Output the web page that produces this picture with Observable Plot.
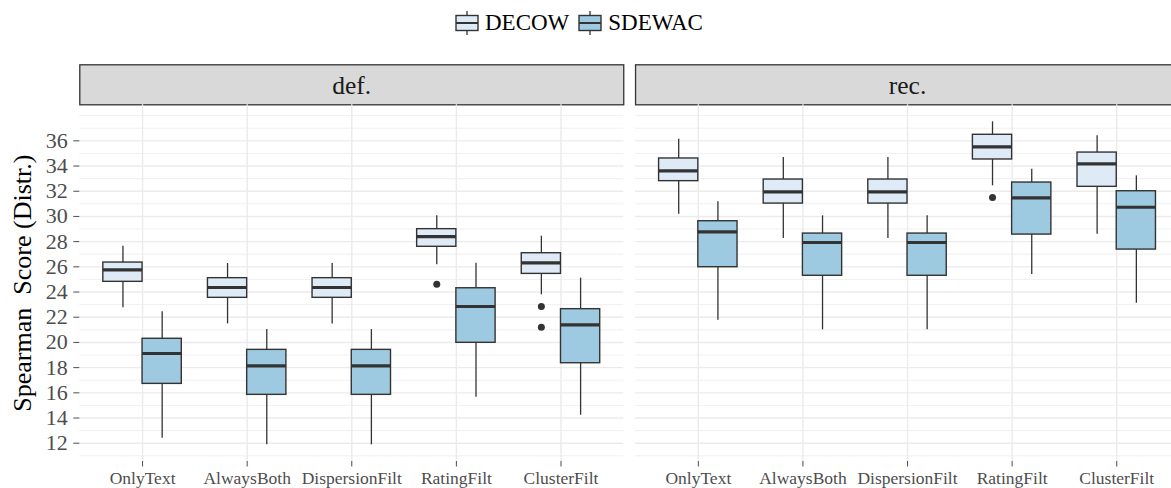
<!DOCTYPE html>
<html>
<head>
<meta charset="utf-8">
<script src="https://cdn.jsdelivr.net/npm/d3@7"></script>
<script src="https://cdn.jsdelivr.net/npm/@observablehq/plot@0.6"></script>
<style>
  html, body { margin: 0; padding: 0; background: #fff; overflow: hidden; }
  #legend { height: 46px; display: flex; align-items: center; padding-left: 455px; box-sizing: border-box;
            font-family: "Liberation Serif", serif; font-size: 23px; color: #000; }
  #legend .item { display: flex; align-items: center; margin-right: 9px; }
  #legend svg { margin-right: 6px; display: block; }
  #chart { width: 1171px; overflow: hidden; }
  #chart svg { max-width: none !important; overflow: visible; }
  #chart svg text { white-space: pre; }
</style>
</head>
<body>
<div id="legend"></div>
<div id="chart"></div>
<script>
// ---- data ----
const panels = ["def.", "rec."];
const categories = ["OnlyText", "AlwaysBoth", "DispersionFilt", "RatingFilt", "ClusterFilt"];
const seriesNames = ["DECOW", "SDEWAC"];
const seriesColors = ["#deebf7", "#9ecae1"];
const yTicks = [12, 14, 16, 18, 20, 22, 24, 26, 28, 30, 32, 34, 36];

// [lower whisker, Q1, median, Q3, upper whisker] per category
const defDECOW = [
  [22.75, 24.81, 25.76, 26.34, 27.63],
  [21.47, 23.54, 24.36, 25.10, 26.26],
  [21.47, 23.54, 24.36, 25.10, 26.26],
  [26.16, 27.59, 28.40, 28.99, 30.05],
  [23.78, 25.44, 26.32, 27.08, 28.43]
];
const defSDEWAC = [
  [12.40, 16.71, 19.12, 20.29, 22.43],
  [11.87, 15.84, 18.14, 19.41, 21.02],
  [11.87, 15.84, 18.14, 19.41, 21.02],
  [15.65, 19.97, 22.85, 24.30, 26.29],
  [14.22, 18.35, 21.40, 22.64, 25.10]
];
const recDECOW = [
  [30.17, 32.80, 33.62, 34.60, 36.13],
  [28.25, 31.02, 31.95, 32.93, 34.67],
  [28.25, 31.02, 31.95, 32.93, 34.67],
  [32.43, 34.52, 35.52, 36.48, 37.51],
  [28.59, 32.35, 34.17, 35.07, 36.40]
];
const recSDEWAC = [
  [21.76, 25.97, 28.78, 29.62, 31.16],
  [21.00, 25.29, 27.93, 28.64, 30.05],
  [21.00, 25.29, 27.93, 28.64, 30.05],
  [25.39, 28.56, 31.47, 32.69, 33.75],
  [23.11, 27.37, 30.73, 32.00, 33.22]
];
// outliers
const outlierPanel  = ["def.", "def.", "def.", "rec."];
const outlierCat    = ["RatingFilt", "ClusterFilt", "ClusterFilt", "RatingFilt"];
const outlierSeries = ["DECOW", "DECOW", "DECOW", "DECOW"];
const outlierValue  = [24.62, 22.85, 21.21, 31.50];

// ---- build tables ----
const statsBy = {
  "def.": {DECOW: defDECOW, SDEWAC: defSDEWAC},
  "rec.": {DECOW: recDECOW, SDEWAC: recSDEWAC}
};
const rows = panels.flatMap(p => seriesNames.flatMap(s => categories.map((c, i) => {
  const [lo, q1, med, q3, hi] = statsBy[p][s][i];
  return {panel: p, series: s, cat: c, lo, q1, med, q3, hi};
})));
const outliers = outlierValue.map((v, i) => ({panel: outlierPanel[i], cat: outlierCat[i], series: outlierSeries[i], value: v}));

// ---- layout ----
const W = 1179, H = 442;
const ML = 79.3, MR = 0, MT = 58.3, MB = 27;
const gap = 11.8;
const fxStep = (W - ML - MR + gap) / 2;
const fxPad = gap / fxStep;
const fb = fxStep - gap;
const xPadInner = 0.25, xPadOuter = 0.225;
const xStep = fb / (categories.length - xPadInner + 2 * xPadOuter);
const bw = xStep * (1 - xPadInner);
const half = bw / 2, quarter = bw / 4;
const plotH = H - MT - MB;
const ink = "#333333";

const minorGrid = d3.range(11, 39).filter(v => !yTicks.includes(v));

const marks = [
  Plot.frame({fill: "#d9d9d9", stroke: ink, strokeWidth: 1.3, insetTop: -40, insetBottom: plotH}),
  Plot.text(panels, {fx: d => d, text: d => d, frameAnchor: "top", lineAnchor: "middle", textAnchor: "middle", dy: -19.2, fontSize: 25.5, fill: "#1a1a1a"}),
  Plot.ruleY(minorGrid, {stroke: "#ebebeb", strokeWidth: 0.8}),
  Plot.ruleY(yTicks, {stroke: "#ebebeb", strokeWidth: 1.4}),
  Plot.gridX({stroke: "#ebebeb", strokeOpacity: 1, strokeWidth: 1.4}),
  Plot.axisY(yTicks, {tickSize: 6, tickPadding: 6, fontSize: 22, color: "#4d4d4d", label: null}),
  Plot.axisX({tickSize: 5.5, tickPadding: 4.7, fontSize: 17.5, color: "#4d4d4d", label: null}),
  Plot.text(["Spearman  Score (Distr.)"], {fx: () => "def.", text: d => d, frameAnchor: "left", textAnchor: "middle", lineAnchor: "middle", rotate: -90, dx: -57.6, fontSize: 26, fill: "#000"})
];

seriesNames.forEach((s, k) => {
  const data = rows.filter(d => d.series === s);
  const sign = k === 0 ? -1 : 1;
  const insets = k === 0 ? {insetLeft: 0, insetRight: half} : {insetLeft: half, insetRight: 0};
  marks.push(
    Plot.ruleX(data, {fx: "panel", x: "cat", y1: "lo", y2: "hi", dx: sign * quarter, stroke: ink, strokeWidth: 1.3}),
    Plot.barY(data, {fx: "panel", x: "cat", y1: "q1", y2: "q3", fill: seriesColors[k], stroke: ink, strokeWidth: 1.4, ...insets}),
    Plot.tickY(data, {fx: "panel", x: "cat", y: "med", stroke: ink, strokeWidth: 3.2, ...insets}),
    Plot.dot(outliers.filter(d => d.series === s), {fx: "panel", x: "cat", y: "value", dx: sign * quarter, r: 3.5, fill: ink, stroke: "none"})
  );
});

const chart = Plot.plot({
  width: W, height: H,
  marginLeft: ML, marginRight: MR, marginTop: MT, marginBottom: MB,
  style: {fontFamily: "'Liberation Serif', serif", background: "#fff", overflow: "visible"},
  fx: {domain: panels, paddingInner: fxPad, paddingOuter: 0, round: false, axis: null, label: null},
  x: {type: "band", domain: categories, paddingInner: xPadInner, paddingOuter: xPadOuter, round: false, label: null},
  y: {domain: [10.55, 38.86], label: null},
  marks
});
document.getElementById("chart").appendChild(chart);

// ---- legend ----
const legend = d3.select("#legend");
seriesNames.forEach((s, k) => {
  const item = legend.append("div").attr("class", "item");
  const svg = item.append("svg").attr("width", 24).attr("height", 24);
  svg.append("line").attr("x1", 12).attr("x2", 12).attr("y1", 0).attr("y2", 24).attr("stroke", ink).attr("stroke-width", 1.3);
  svg.append("rect").attr("x", 1).attr("y", 4.5).attr("width", 22).attr("height", 15).attr("fill", seriesColors[k]).attr("stroke", ink).attr("stroke-width", 1.4);
  svg.append("line").attr("x1", 1).attr("x2", 23).attr("y1", 12).attr("y2", 12).attr("stroke", ink).attr("stroke-width", 2);
  item.append("span").text(s);
});
</script>
</body>
</html>
